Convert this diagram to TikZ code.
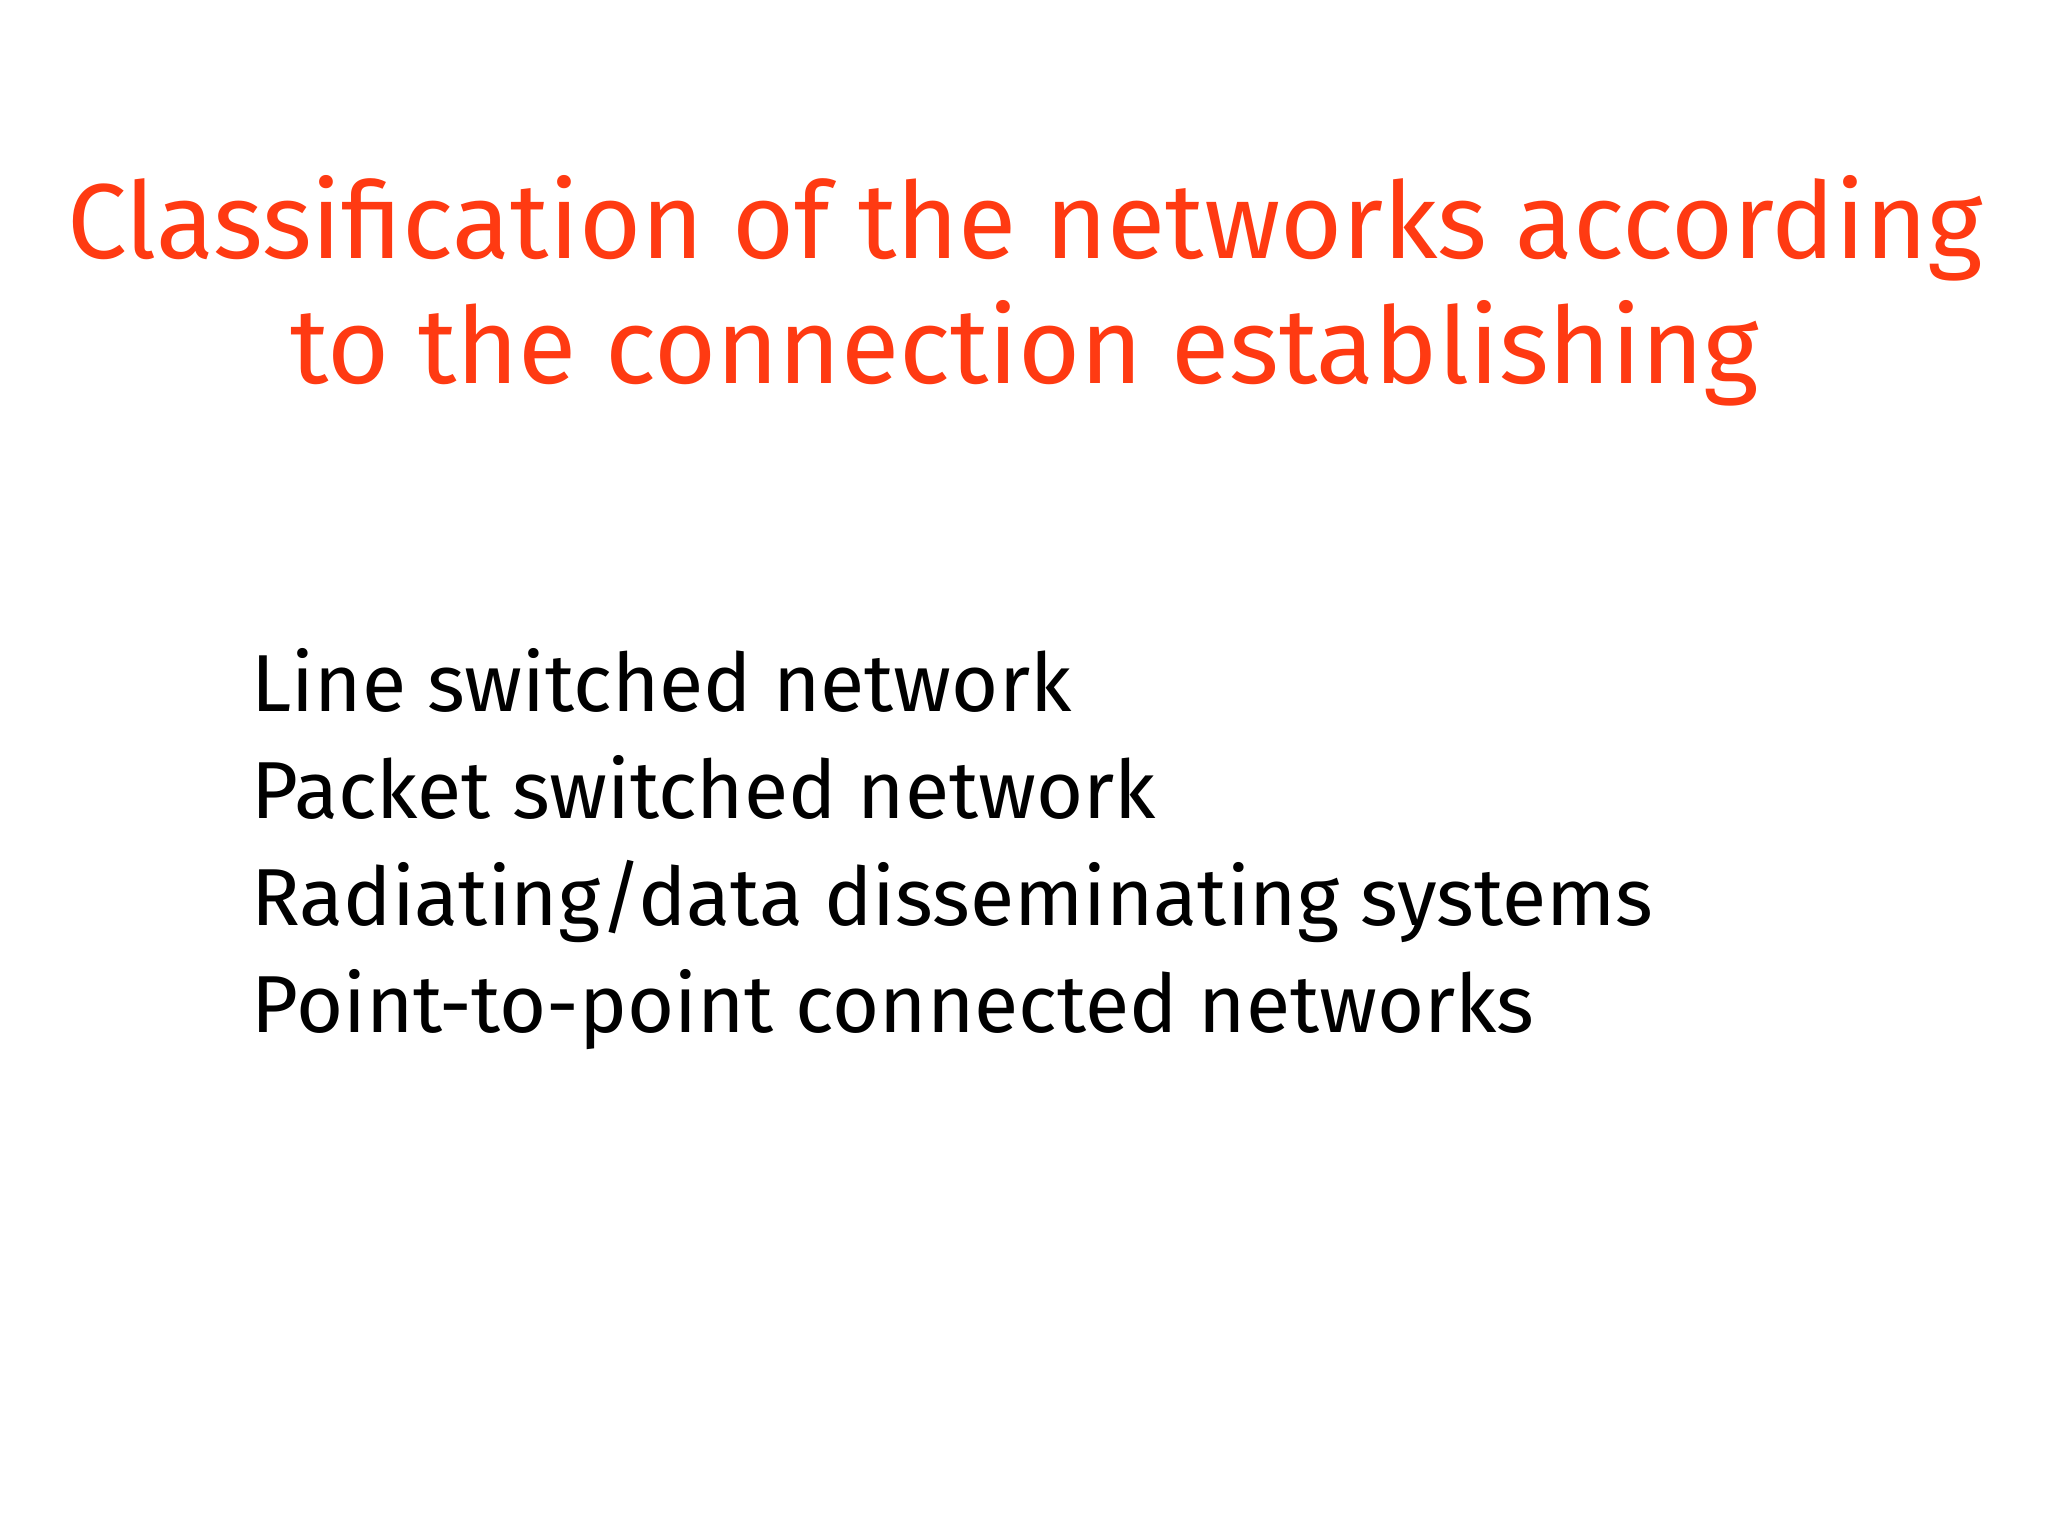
\documentclass[tikz,border=0pt]{standalone}
\usepackage{fontspec}
\setmainfont{Fira Sans}
\definecolor{titlered}{HTML}{FF3A12}
\begin{document}
\begin{tikzpicture}[x=1cm,y=-1cm,
  ttl/.style={text=titlered,font=\fontsize{30.3}{36}\selectfont,inner sep=0pt},
  item/.style={anchor=base west,font=\fontsize{23}{28}\selectfont,inner sep=0pt}]
\useasboundingbox[fill=white] (0,0) rectangle (20.48,15.36);
\node[ttl] (t1) at (10.25,2.28) {Classification of the networks according};
\node[ttl] (t2) at (10.25,3.53) {to the connection establishing};
\node[item] (i1) at (2.51,7.12) {Line switched network};
\node[item] (i2) at (2.51,8.19) {Packet switched network};
\node[item] (i3) at (2.51,9.25) {Radiating/data disseminating systems};
\node[item] (i4) at (2.51,10.32) {Point-to-point connected networks};
\end{tikzpicture}
\end{document}
